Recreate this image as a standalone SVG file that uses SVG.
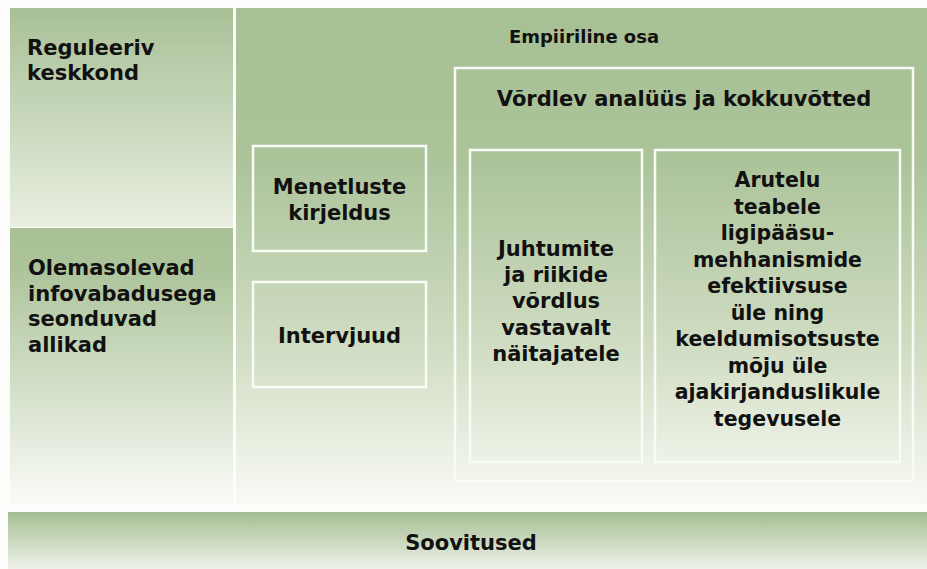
<svg xmlns="http://www.w3.org/2000/svg" width="927" height="569" viewBox="0 0 927 569">
  <defs>
    <linearGradient id="gLeftTop" gradientUnits="userSpaceOnUse" x1="0" y1="8" x2="0" y2="227">
      <stop offset="0" stop-color="#a8c096"/>
      <stop offset="1" stop-color="#e9efe1"/>
    </linearGradient>
    <linearGradient id="gLeftBot" gradientUnits="userSpaceOnUse" x1="0" y1="228" x2="0" y2="505">
      <stop offset="0" stop-color="#a8c096"/>
      <stop offset="0.15" stop-color="#adc49b"/>
      <stop offset="1" stop-color="#fafbf7"/>
    </linearGradient>
    <linearGradient id="gMain" gradientUnits="userSpaceOnUse" x1="0" y1="8" x2="0" y2="505">
      <stop offset="0" stop-color="#a8c096"/>
      <stop offset="0.3" stop-color="#abc399"/>
      <stop offset="0.7" stop-color="#d2dec5"/>
      <stop offset="1" stop-color="#f9faf5"/>
    </linearGradient>
    <linearGradient id="gBand" gradientUnits="userSpaceOnUse" x1="0" y1="512" x2="0" y2="569">
      <stop offset="0" stop-color="#a5be92"/>
      <stop offset="1" stop-color="#eef2ea"/>
    </linearGradient>
  </defs>
  <style>
    .box { fill: none; stroke: #f9fbf6; stroke-width: 2.5; }
    .t { font-family: "DejaVu Sans", "Liberation Sans", sans-serif; font-weight: bold; fill: #111111; }
    .body { font-size: 21px; }
    .small { font-size: 20.5px; }
    .c { text-anchor: middle; }
  </style>
  <rect x="0" y="0" width="927" height="569" fill="#fdfdfb"/>

  <g id="reguleeriv-keskkond">
    <rect x="10" y="8" width="223" height="219" fill="url(#gLeftTop)"/>
    <text class="t body" x="27" y="55">Reguleeriv</text>
    <text class="t body" x="27" y="80">keskkond</text>
  </g>

  <g id="olemasolevad-allikad">
    <rect x="10" y="228" width="223" height="276" fill="url(#gLeftBot)"/>
    <text class="t body" x="28" y="275">Olemasolevad</text>
    <text class="t body" x="28" y="300.5">infovabadusega</text>
    <text class="t body" x="28" y="326">seonduvad</text>
    <text class="t body" x="28" y="352">allikad</text>
  </g>

  <g id="empiiriline-osa">
    <rect x="236" y="8" width="691" height="497" fill="url(#gMain)"/>
    <text class="t c" font-size="18" x="584" y="43">Empiiriline osa</text>
  </g>

  <g id="menetluste-kirjeldus">
    <rect class="box" x="253" y="146" width="173" height="105"/>
    <text class="t body c" x="339.5" y="194">Menetluste</text>
    <text class="t body c" x="339.5" y="219.5">kirjeldus</text>
  </g>

  <g id="intervjuud">
    <rect class="box" x="253" y="282" width="173" height="105"/>
    <text class="t body c" x="339.5" y="343">Intervjuud</text>
  </g>

  <g id="vordlev-analuus">
    <rect class="box" x="455" y="68" width="458" height="413"/>
    <text class="t c" font-size="21" x="684" y="106">Võrdlev analüüs ja kokkuvõtted</text>
  </g>

  <g id="juhtumite-vordlus">
    <rect class="box" x="470" y="150" width="172" height="312"/>
    <text class="t body c" x="556" y="255.5">Juhtumite</text>
    <text class="t body c" x="556" y="282">ja riikide</text>
    <text class="t body c" x="556" y="308">võrdlus</text>
    <text class="t body c" x="556" y="334.5">vastavalt</text>
    <text class="t body c" x="556" y="361">näitajatele</text>
  </g>

  <g id="arutelu">
    <rect class="box" x="655" y="150" width="245" height="312"/>
    <text class="t small c" x="777.5" y="187">Arutelu</text>
    <text class="t small c" x="777.5" y="213.5">teabele</text>
    <text class="t small c" x="777.5" y="240">ligipääsu-</text>
    <text class="t small c" x="777.5" y="266.5">mehhanismide</text>
    <text class="t small c" x="777.5" y="293">efektiivsuse</text>
    <text class="t small c" x="777.5" y="319.5">üle ning</text>
    <text class="t small c" x="777.5" y="346">keeldumisotsuste</text>
    <text class="t small c" x="777.5" y="372.5">mõju üle</text>
    <text class="t small c" x="777.5" y="399">ajakirjanduslikule</text>
    <text class="t small c" x="777.5" y="425.5">tegevusele</text>
  </g>

  <g id="soovitused">
    <rect x="8" y="512" width="919" height="57" fill="url(#gBand)"/>
    <text class="t c" font-size="21" x="471" y="550">Soovitused</text>
  </g>

  <g id="connectors"/>
</svg>
